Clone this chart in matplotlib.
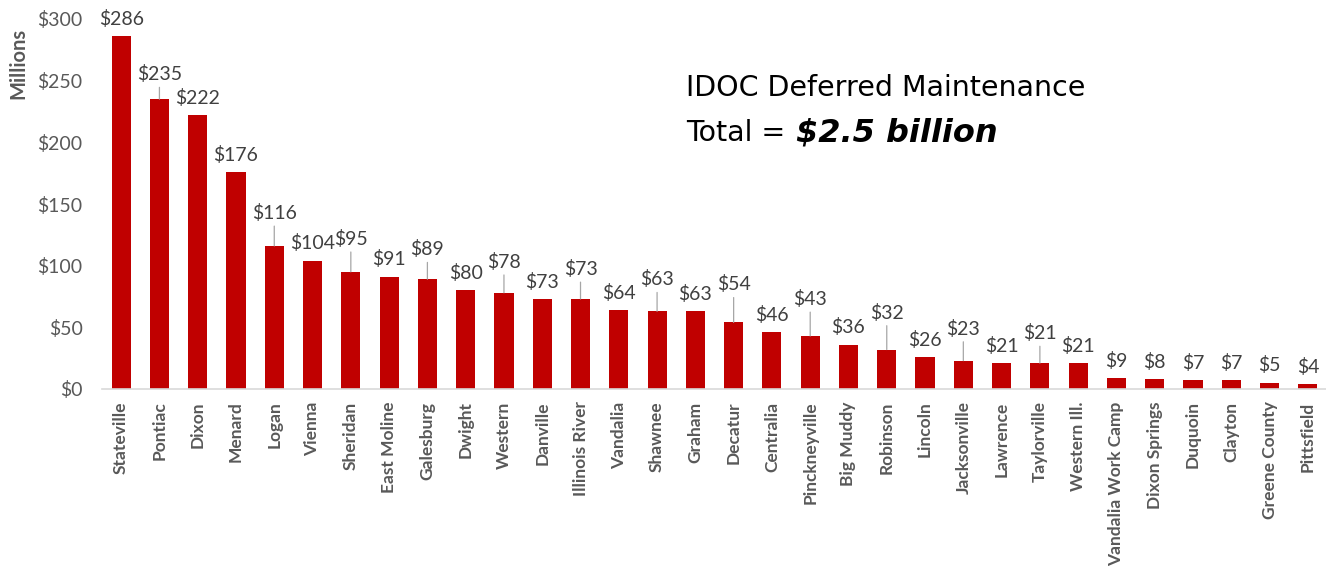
import matplotlib
matplotlib.use("Agg")
import matplotlib.pyplot as plt
import numpy as np

# IDOC facilities, deferred maintenance in $ millions
facilities = [
    "Stateville", "Pontiac", "Dixon", "Menard", "Logan", "Vienna", "Sheridan",
    "East Moline", "Galesburg", "Dwight", "Western", "Danville", "Illinois River",
    "Vandalia", "Shawnee", "Graham", "Decatur", "Centralia", "Pinckneyville",
    "Big Muddy", "Robinson", "Lincoln", "Jacksonville", "Lawrence", "Taylorville",
    "Western Ill.", "Vandalia Work Camp", "Dixon Springs", "Duquoin", "Clayton",
    "Greene County", "Pittsfield",
]
costs = [286, 235, 222, 176, 116, 104, 95, 91, 89, 80, 78, 73, 73, 64, 63, 63,
         54, 46, 43, 36, 32, 26, 23, 21, 21, 21, 9, 8, 7, 7, 5, 4]
yticks = [0, 50, 100, 150, 200, 250, 300]

# labels Excel pushed up with a leader line: lift above bar top, in px
leader = {"Pontiac": 25, "Logan": 33, "Sheridan": 33, "Galesburg": 30,
          "Western": 31, "Illinois River": 30, "Shawnee": 32, "Decatur": 38,
          "Pinckneyville": 37, "Robinson": 37, "Jacksonville": 32,
          "Taylorville": 30}

RED = "#C00000"
GRAY = "#595959"
DARK = "#404040"

W, H = 1326, 578
fig = plt.figure(figsize=(W / 100, H / 100), dpi=100)
ax = fig.add_axes([102 / W, (H - 389) / H, 1225 / W, 370 / H])

x = np.arange(len(facilities))
ax.bar(x, costs, width=0.5, color=RED, zorder=2)

ax.set_xlim(-0.5, len(facilities) - 0.5)
ax.set_ylim(0, 300)
ax.set_yticks(yticks)
ax.set_yticklabels(["$%d" % v for v in yticks], fontsize=14, color=GRAY,
                   family="Lato")
ax.set_xticks(x)
ax.set_xticklabels(facilities, rotation=90, fontsize=12.5, color=GRAY,
                   family="Lato", fontweight="bold")
ax.tick_params(axis="y", length=0, pad=14)
ax.tick_params(axis="x", length=0, pad=9)

for s in ["top", "right", "left"]:
    ax.spines[s].set_visible(False)
ax.spines["bottom"].set_color("#D9D9D9")
ax.spines["bottom"].set_linewidth(1.2)

px = 0.72  # points per pixel at dpi 100
for xi, name, v in zip(x, facilities, costs):
    if name in leader:
        ax.annotate("$%d" % v, xy=(xi, v), xytext=(0, leader[name] * px),
                    textcoords="offset points", ha="center", va="center",
                    fontsize=14, color=DARK, family="Lato",
                    arrowprops=dict(arrowstyle="-", color="#A6A6A6", lw=0.9,
                                    shrinkA=1, shrinkB=0))
    else:
        ax.annotate("$%d" % v, xy=(xi, v), xytext=(0, 12.5), textcoords="offset points",
                    ha="center", va="center", fontsize=14, color=DARK, family="Lato")

fig.text(18 / W, 1 - 63 / H, "Millions", rotation=90, ha="center", va="center",
         fontsize=14.5, color=GRAY, family="Lato", fontweight="bold")

# title block
fig.text(686 / W, 1 - 88 / H, "IDOC Deferred Maintenance", ha="left", va="center",
         fontsize=20.5, color="black", family="DejaVu Sans")
t = fig.text(686 / W, 1 - 133 / H, "Total = ", ha="left", va="center",
             fontsize=20.5, color="black", family="DejaVu Sans")
fig.canvas.draw()
bb = t.get_window_extent()
fig.text(bb.x1 / W + 2 / W, 1 - 133 / H, "$2.5 billion", ha="left", va="center",
         fontsize=23, color="black", family="DejaVu Sans", fontweight="bold",
         style="italic")

fig.savefig("out.png", dpi=100)
